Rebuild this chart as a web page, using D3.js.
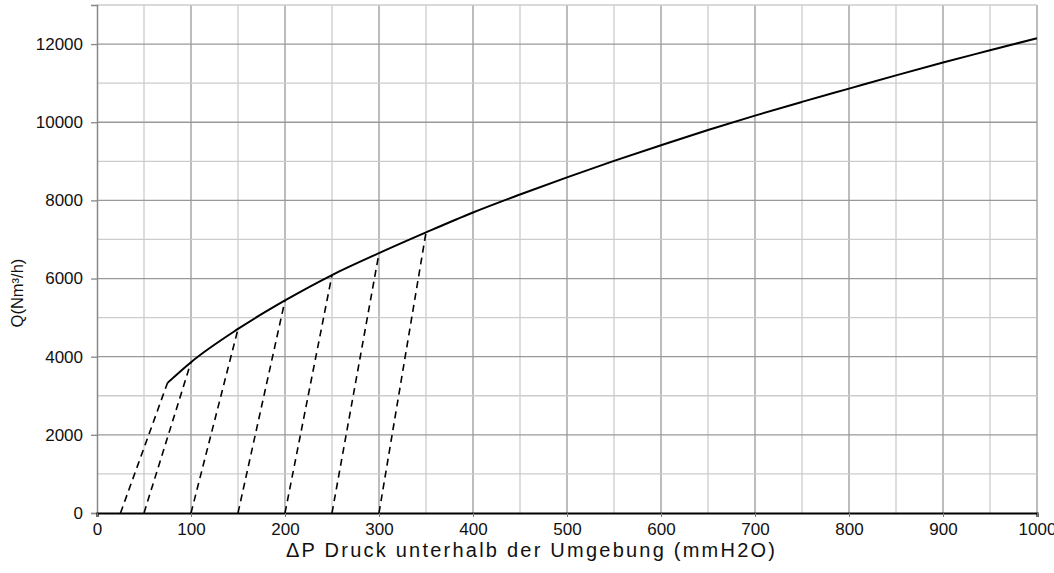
<!DOCTYPE html>
<html>
<head>
<meta charset="utf-8">
<style>
  body { margin: 0; background: #fff; overflow: hidden; }
  svg { display: block; }
  svg text { font-family: "Liberation Sans", Arial, sans-serif; fill: #111; }
</style>
</head>
<body>
<svg id="chart" width="1054" height="573"></svg>
<script src="https://cdnjs.cloudflare.com/ajax/libs/d3/7.8.5/d3.min.js"></script>
<script>
// curve: pressure (mmH2O) vs flow (Nm3/h)
var curveP = [75, 100, 150, 200, 250, 300, 350, 400, 450, 500, 550, 600, 650, 700, 750, 800, 850, 900, 950, 1000];
var curveQ = [3330, 3860, 4710, 5440, 6090, 6650, 7180, 7690, 8150, 8590, 9010, 9410, 9800, 10170, 10520, 10860, 11200, 11530, 11840, 12150];

// dashed lines: start on the axis, end on the curve
var dashStartP = [25, 50, 100, 150, 200, 250, 300];
var dashEndP = [75, 100, 150, 200, 250, 300, 350];
var dashEndQ = [3330, 3860, 4710, 5440, 6090, 6650, 7180];

var xTicks = [0, 100, 200, 300, 400, 500, 600, 700, 800, 900, 1000];
var yTicks = [0, 2000, 4000, 6000, 8000, 10000, 12000];

var svg = d3.select('#chart');
var width = +svg.attr('width'),
    height = +svg.attr('height'),
    margin = {top: 5, right: 17, bottom: 60, left: 97},
    innerWidth = width - margin.left - margin.right,
    innerHeight = height - margin.top - margin.bottom;

var g = svg.append('g')
    .attr('transform', 'translate(' + margin.left + ',' + margin.top + ')');

var xScale = d3.scaleLinear().domain([0, 1000]).range([0, innerWidth]);
var yScale = d3.scaleLinear().domain([0, 13000]).range([innerHeight, 0]);

// grid - darker on the labelled values
var vGrid = d3.range(50, 1001, 50);
g.selectAll('.vgrid').data(vGrid).enter().append('line')
    .attr('x1', function(d) { return xScale(d); })
    .attr('x2', function(d) { return xScale(d); })
    .attr('y1', 0).attr('y2', innerHeight)
    .attr('stroke', function(d) { return d % 100 == 0 ? '#999' : '#ccc'; })
    .attr('stroke-width', 1.3);

var hGrid = d3.range(1000, 13001, 1000);
g.selectAll('.hgrid').data(hGrid).enter().append('line')
    .attr('x1', 0).attr('x2', innerWidth)
    .attr('y1', function(d) { return yScale(d); })
    .attr('y2', function(d) { return yScale(d); })
    .attr('stroke', function(d) { return d % 2000 == 0 ? '#999' : '#ccc'; })
    .attr('stroke-width', 1.3);

// y axis
var yAxis = d3.axisLeft(yScale).tickValues(yTicks).tickFormat(d3.format('d')).tickSize(6).tickPadding(8);
var yG = g.append('g').call(yAxis);
yG.select('.domain').attr('stroke', '#888').attr('stroke-width', 1.5);
yG.selectAll('.tick line').attr('stroke', '#888').attr('stroke-width', 1.3);
yG.selectAll('.tick text').style('font-size', '17px').attr('fill', '#111');

// x axis
var xAxis = d3.axisBottom(xScale).tickValues(xTicks).tickFormat(d3.format('d')).tickSize(4).tickPadding(6);
var xG = g.append('g').attr('transform', 'translate(0,' + innerHeight + ')').call(xAxis);
xG.select('.domain').attr('stroke', '#000').attr('stroke-width', 2.2);
xG.selectAll('.tick line').attr('stroke', '#777');
xG.selectAll('.tick text').style('font-size', '17px').attr('fill', '#111');

// dashed lines
var dashData = dashStartP.map(function(p, i) {
    return [[p, 0], [dashEndP[i], dashEndQ[i]]];
});
var line = d3.line()
    .x(function(d) { return xScale(d[0]); })
    .y(function(d) { return yScale(d[1]); });

g.selectAll('.dash').data(dashData).enter().append('path')
    .attr('d', line)
    .attr('fill', 'none')
    .attr('stroke', '#000')
    .attr('stroke-width', 1.6)
    .attr('stroke-dasharray', '7,5');

// main curve
var curveData = curveP.map(function(p, i) { return [p, curveQ[i]]; });
g.append('path')
    .datum(curveData)
    .attr('d', line.curve(d3.curveMonotoneX))
    .attr('fill', 'none')
    .attr('stroke', '#000')
    .attr('stroke-width', 2);

// labels
svg.append('text')
    .attr('x', 286)
    .attr('y', 557)
    .attr('textLength', 489)
    .attr('lengthAdjust', 'spacing')
    .style('font-size', '20px')
    .text('\u0394P Druck unterhalb der Umgebung (mmH2O)');

svg.append('text')
    .attr('transform', 'translate(23,293) rotate(-90)')
    .attr('text-anchor', 'middle')
    .style('font-size', '16.5px')
    .text('Q(Nm\u00b3/h)');
</script>
</body>
</html>
